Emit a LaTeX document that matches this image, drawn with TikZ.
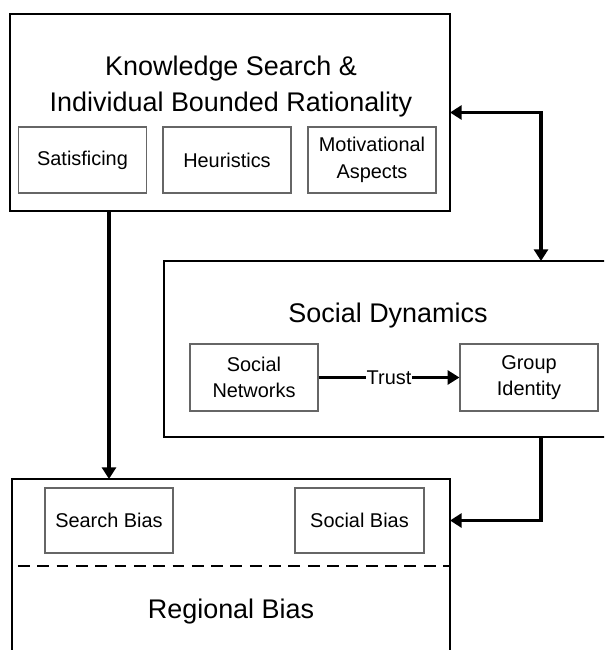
\documentclass[tikz,border=0pt]{standalone}
\usepackage{fontspec}
\setmainfont{Liberation Sans}
\usetikzlibrary{arrows.meta}

\begin{document}
\begin{tikzpicture}[x=0.03cm, y=-0.03cm,
  frame/.style={draw, line width=2pt, inner sep=0pt, outer sep=0pt},
  part/.style={draw=black!60, line width=1pt, align=center,
    font=\fontsize{17}{22.5}\selectfont},
  head/.style={align=center, font=\fontsize{23}{30}\selectfont},
  link/.style={line width=2.6pt},
  >={Triangle[length=10pt, width=12pt]}]
  \useasboundingbox (0,0) rectangle (604,650);
  \clip (0,0) rectangle (604,650);

  \node (know)     at (230,112.5) [frame, minimum width=13.2cm, minimum height=5.91cm] {};
  \node (knowhead) at (231,86.5)  [head] {Knowledge Search \&\\Individual Bounded Rationality};
  \node (satis)    at (82.5,160)  [part, minimum width=3.84cm, minimum height=1.98cm] {Satisficing};
  \node (heur)     at (227,160)   [part, minimum width=3.84cm, minimum height=1.98cm] {Heuristics};
  \node (motiv)    at (372,160)   [part, minimum width=3.84cm, minimum height=1.98cm] {Motivational\\Aspects};

  \node (social)     at (392,349)   [frame, minimum width=13.68cm, minimum height=5.28cm] {};
  \node (socialhead) at (388,316)   [head] {Social Dynamics};
  \node (netw)       at (254,377.5) [part, minimum width=3.84cm, minimum height=2.01cm] {Social\\Networks};
  \node (group)      at (529,377.5) [part, minimum width=4.14cm, minimum height=2.01cm] {Group\\Identity};

  \node (regional)     at (231,579.5) [frame, minimum width=13.14cm, minimum height=6.03cm] {};
  \node (regionalhead) at (231,612)   [head] {Regional Bias};
  \node (search)       at (109,520.5) [part, minimum width=3.84cm, minimum height=1.95cm] {Search Bias};
  \node (socbias)      at (359.5,520.5) [part, minimum width=3.87cm, minimum height=1.95cm] {Social Bias};

  \coordinate (rcol) at (541,0);
  \coordinate (cut)  at (0,566);

  %\draw[style=help lines] (0,0) grid[step=50] (604,650);
  \draw[line width=2pt, dash pattern=on 10pt off 6.5pt, dash phase=-5pt]
  (regional.west |- cut) -- (regional.east |- cut);
  \draw[link,<->] (know.east) -| (rcol |- social.north);
  \draw[link,->] (know.south -| search) -- (regional.north -| search);
  \draw[link,->] (social.south -| rcol) |- (regional.east |- socbias);
  \draw[line width=2pt,->] (netw) --
  node[fill=white, inner sep=1pt, font=\fontsize{17}{20}\selectfont] {Trust} (group);
\end{tikzpicture}
\end{document}
